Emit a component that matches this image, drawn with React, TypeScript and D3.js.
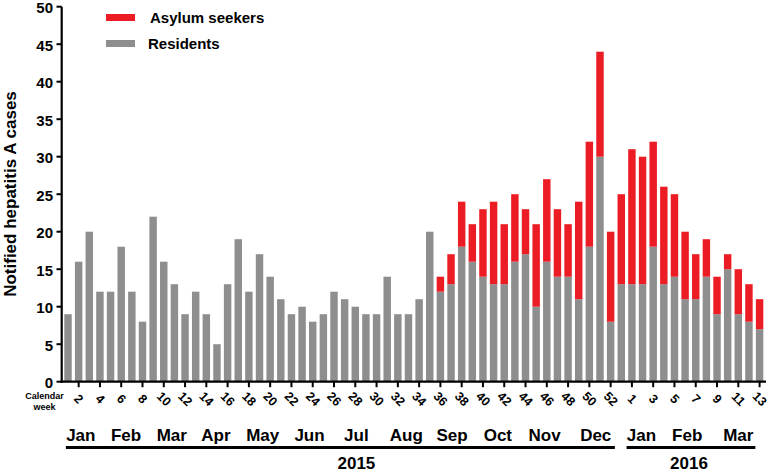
import React from "react";
import * as d3 from "d3";

// Calendar weeks: 2015 has 53 ISO weeks, 2016 weeks 1-13
const weeks2015: number[] = d3.range(1, 54);
const weeks2016: number[] = d3.range(1, 14);

const residents2015: number[] = [
  9, 16, 20, 12, 12, 18, 12, 8, 22, 16, 13, 9, 12, 9, 5, 13, 19, 12, 17, 14,
  11, 9, 10, 8, 9, 12, 11, 10, 9, 9, 14, 9, 9, 11, 20,
  12, 13, 18, 16, 14, 13, 13, 16, 17, 10, 16, 14, 14, 11, 18, 30, 8, 13,
];
const asylum2015: number[] = [
  0, 0, 0, 0, 0, 0, 0, 0, 0, 0, 0, 0, 0, 0, 0, 0, 0, 0, 0, 0,
  0, 0, 0, 0, 0, 0, 0, 0, 0, 0, 0, 0, 0, 0, 0,
  2, 4, 6, 5, 9, 11, 8, 9, 6, 11, 11, 9, 7, 13, 14, 14, 12, 12,
];
const residents2016: number[] = [13, 13, 18, 13, 14, 11, 11, 14, 9, 15, 9, 8, 7];
const asylum2016: number[] = [18, 17, 14, 13, 11, 9, 6, 5, 5, 2, 6, 5, 4];

const yTicks: number[] = d3.range(0, 51, 5);

// Month labels, anchored at (fractional) bar index
const monthLabels: string[] = [
  "Jan", "Feb", "Mar", "Apr", "May", "Jun", "Jul", "Aug", "Sep", "Oct", "Nov", "Dec",
  "Jan", "Feb", "Mar",
];
const monthAnchors: number[] = [
  1.2, 5.45, 9.75, 13.9, 18.3, 22.7, 27.1, 31.8, 36.1, 40.4, 44.8, 49.6,
  53.9, 58.2, 63.0,
];
const yearLabels: string[] = ["2015", "2016"];
const yearSpans: [number, number][] = [
  [-0.2, 51.4],
  [52.5, 64.6],
];

const RED = "#ec1c24";
const GREY = "#8e8e8e";
const FONT = "Liberation Sans, Arial, sans-serif";

type Row = { key: string; label: string; showTick: boolean; res: number; asy: number };

const rows: Row[] = [
  ...weeks2015.map((w, i) => ({
    key: `2015-${w}`,
    label: String(w),
    showTick: w % 2 === 0,
    res: residents2015[i],
    asy: asylum2015[i],
  })),
  ...weeks2016.map((w, i) => ({
    key: `2016-${w}`,
    label: String(w),
    showTick: w % 2 === 1,
    res: residents2016[i],
    asy: asylum2016[i],
  })),
];

export default function App() {
  const W = 768;
  const H = 472;
  const x = d3
    .scaleBand<string>()
    .domain(rows.map((r) => r.key))
    .range([61.1, 766.5])
    .padding(0.3);
  const y = d3.scaleLinear().domain([0, 50]).range([381.7, 6.7]);
  const bw = x.bandwidth();
  const step = x.step();
  const cx = (i: number) => (x(rows[0].key) as number) + bw / 2 + i * step;

  return (
    <svg
      width={W}
      height={H}
      style={{ position: "absolute", left: 0, top: 0, background: "#fff" }}
      fontFamily={FONT}
      fontWeight="bold"
    >
      <rect width={W} height={H} fill="#fff" />
      {/* bars */}
      {rows.map((r) => (
        <g key={r.key}>
          <rect
            x={x(r.key)}
            y={y(r.res)}
            width={bw}
            height={y(0) - y(r.res)}
            fill={GREY}
          />
          {r.asy > 0 && (
            <rect
              x={x(r.key)}
              y={y(r.res + r.asy)}
              width={bw}
              height={y(r.res) - y(r.res + r.asy)}
              fill={RED}
            />
          )}
        </g>
      ))}
      {/* y axis */}
      <line x1={61.7} x2={61.7} y1={y(0) + 1} y2={y(50)} stroke="#000" strokeWidth={2.2} />
      {yTicks.map((t) => (
        <g key={t}>
          <line x1={56.5} x2={61.7} y1={y(t)} y2={y(t)} stroke="#000" strokeWidth={2} />
          <text x={53} y={y(t) + 6.5} textAnchor="end" fontSize={15}>
            {t}
          </text>
        </g>
      ))}
      <text
        transform={`translate(16,194) rotate(-90)`}
        textAnchor="middle"
        fontSize={17}
      >
        Notified hepatitis A cases
      </text>
      {/* x axis */}
      <line x1={60.6} x2={766} y1={y(0)} y2={y(0)} stroke="#000" strokeWidth={2.2} />
      {rows.map((r) =>
        r.showTick ? (
          <g key={"t" + r.key}>
            <line
              x1={(x(r.key) as number) + bw / 2}
              x2={(x(r.key) as number) + bw / 2}
              y1={y(0)}
              y2={y(0) + 5.5}
              stroke="#000"
              strokeWidth={2}
            />
            <text
              transform={`translate(${(x(r.key) as number) + bw / 2},${y(0) + 17.5}) rotate(45)`}
              textAnchor="middle"
              dominantBaseline="central"
              fontSize={12.5}
            >
              {r.label}
            </text>
          </g>
        ) : null
      )}
      <text x={44.5} y={398.5} textAnchor="middle" fontSize={9}>
        Calendar
      </text>
      <text x={44.5} y={410} textAnchor="middle" fontSize={9}>
        week
      </text>
      {/* months */}
      {monthLabels.map((m, i) => (
        <text key={"m" + i} x={cx(monthAnchors[i])} y={441} textAnchor="middle" fontSize={17}>
          {m}
        </text>
      ))}
      {/* years */}
      {yearLabels.map((yl, i) => {
        const x0 = cx(yearSpans[i][0]);
        const x1 = cx(yearSpans[i][1]);
        return (
          <g key={yl}>
            <line x1={x0} x2={x1} y1={447.5} y2={447.5} stroke="#000" strokeWidth={3} />
            <text x={(x0 + x1) / 2 + (i === 0 ? 16 : -2)} y={469} textAnchor="middle" fontSize={17}>
              {yl}
            </text>
          </g>
        );
      })}
      {/* legend */}
      <rect x={106} y={14} width={29} height={7} fill={RED} />
      <text x={150} y={22.5} fontSize={15}>
        Asylum seekers
      </text>
      <rect x={106} y={40} width={29} height={7} fill={GREY} />
      <text x={148} y={49} fontSize={15}>
        Residents
      </text>
    </svg>
  );
}
